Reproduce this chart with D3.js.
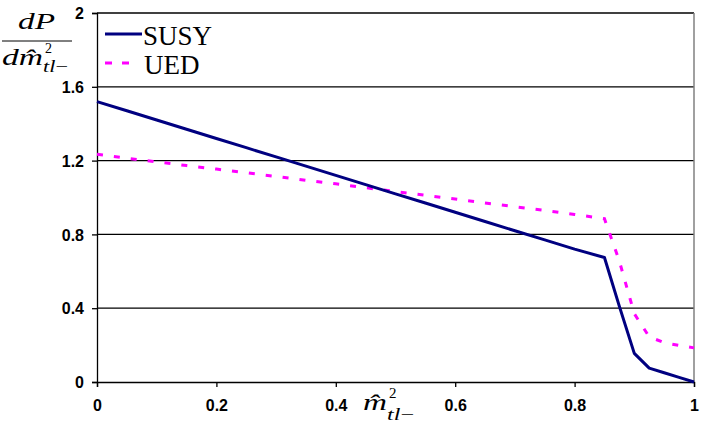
<!DOCTYPE html>
<html>
<head>
<meta charset="utf-8">
<script src="https://cdn.jsdelivr.net/npm/d3@7"></script>
<style>
  body { margin: 0; background: #fff; }
  svg { display: block; }
  .tick text { font-family: "Liberation Sans", Arial, sans-serif; font-size: 16px; font-weight: bold; fill: #000; }
  .math { font-family: "Liberation Serif", "Times New Roman", serif; font-style: italic; fill: #000; }
  .up { font-style: normal; }
</style>
</head>
<body>
<svg id="chart"></svg>
<script>
// values
const xs      = [0, 0.05, 0.1, 0.15, 0.2, 0.25, 0.3, 0.35, 0.4, 0.45, 0.5, 0.55, 0.6, 0.65, 0.7, 0.75, 0.8, 0.85, 0.875, 0.9, 0.925, 0.95, 0.975, 1];
const susy    = [1.52, 1.47, 1.42, 1.37, 1.32, 1.27, 1.22, 1.17, 1.12, 1.07, 1.02, 0.97, 0.92, 0.87, 0.82, 0.77, 0.72, 0.675, 0.41, 0.155, 0.075, 0.05, 0.025, 0];
const ued     = [1.234, 1.213, 1.193, 1.173, 1.154, 1.134, 1.114, 1.093, 1.074, 1.053, 1.032, 1.012, 0.992, 0.970, 0.950, 0.930, 0.908, 0.885, 0.655, 0.37, 0.245, 0.213, 0.198, 0.185];
const xTicks  = [0, 0.2, 0.4, 0.6, 0.8, 1];
const yTicks  = [0, 0.4, 0.8, 1.2, 1.6, 2];
const seriesNames = ['SUSY', 'UED'];

const W = 704, H = 433;
const margin = { top: 13, right: 10, bottom: 51, left: 97 };
const width = W - margin.left - margin.right;
const height = H - margin.top - margin.bottom;

const svg = d3.select('#chart').attr('width', W).attr('height', H);
svg.append('rect').attr('width', W).attr('height', H).attr('fill', '#fff');

const g = svg.append('g').attr('transform', `translate(${margin.left},${margin.top})`);

const x = d3.scaleLinear().domain([0, 1]).range([0, width]);
const y = d3.scaleLinear().domain([0, 2]).range([height, 0]);

// horizontal grid lines
g.selectAll('.grid')
  .data(yTicks.slice(1))
  .enter().append('line')
  .attr('x1', 0).attr('x2', width)
  .attr('y1', d => y(d)).attr('y2', d => y(d))
  .attr('stroke', '#000').attr('stroke-width', 1.3);

// gray right border
g.append('line')
  .attr('x1', width).attr('x2', width)
  .attr('y1', 0).attr('y2', height)
  .attr('stroke', '#808080').attr('stroke-width', 1.5);

const yAxis = g.append('g')
  .call(d3.axisLeft(y).tickValues(yTicks).tickFormat(d3.format('')).tickSize(5).tickPadding(8));
const xAxis = g.append('g')
  .attr('transform', `translate(0,${height})`)
  .call(d3.axisBottom(x).tickValues(xTicks).tickFormat(d3.format('')).tickSize(5).tickPadding(13));
[yAxis, xAxis].forEach(a => {
  a.select('.domain').attr('stroke', '#000').attr('stroke-width', 1.3);
  a.selectAll('.tick line').attr('stroke', '#000').attr('stroke-width', 1.3);
});
yAxis.selectAll('.tick text').attr('dy', '0.36em');

const pts = vals => xs.map((v, i) => [v, vals[i]]);
const line = d3.line().x(d => x(d[0])).y(d => y(d[1]));

g.append('path')
  .datum(pts(ued))
  .attr('fill', 'none')
  .attr('stroke', '#ff00ff')
  .attr('stroke-width', 3)
  .attr('stroke-dasharray', '6,11')
  .attr('d', line);

g.append('path')
  .datum(pts(susy))
  .attr('fill', 'none')
  .attr('stroke', '#000080')
  .attr('stroke-width', 3)
  .attr('stroke-linejoin', 'round')
  .attr('d', line);

// legend
const legend = svg.append('g');
const styles = [
  { stroke: '#000080', dash: null, len: 37 },
  { stroke: '#ff00ff', dash: '7,10', len: 32 }
];
seriesNames.forEach((name, i) => {
  const ly = 34 + i * 29;
  legend.append('line')
    .attr('x1', 105).attr('x2', 105 + styles[i].len)
    .attr('y1', ly).attr('y2', ly)
    .attr('stroke', styles[i].stroke).attr('stroke-width', 3)
    .attr('stroke-dasharray', styles[i].dash);
  legend.append('text')
    .attr('x', 143 + (i ? 1 : 0)).attr('y', ly + 11)
    .style('font-family', '"Liberation Serif", "Times New Roman", serif')
    .style('font-size', '27px')
    .text(name);
});

// y title: dP / d m-hat^2_{tl-}
const yt = svg.append('g');
yt.append('text').attr('class', 'math').attr('x', 18).attr('y', 29)
  .attr('textLength', 37).attr('lengthAdjust', 'spacingAndGlyphs')
  .style('font-size', '24px').text('dP');
yt.append('line').attr('x1', 2).attr('x2', 72).attr('y1', 41).attr('y2', 41)
  .attr('stroke', '#000').attr('stroke-width', 1);
yt.append('text').attr('class', 'math').attr('x', 2).attr('y', 65)
  .attr('textLength', 41).attr('lengthAdjust', 'spacingAndGlyphs')
  .style('font-size', '24px').text('dm\u0302');
yt.append('text').attr('class', 'math up').attr('x', 45).attr('y', 53)
  .style('font-size', '14px').text('2');
yt.append('text').attr('class', 'math').attr('x', 43).attr('y', 72)
  .attr('textLength', 25).attr('lengthAdjust', 'spacingAndGlyphs')
  .style('font-size', '16px')
  .text('tl').append('tspan').attr('class', 'up').text('\u2212');

// x title
const xt = svg.append('g');
xt.append('text').attr('class', 'math').attr('x', 363).attr('y', 410)
  .attr('textLength', 24).attr('lengthAdjust', 'spacingAndGlyphs')
  .style('font-size', '24px').text('m\u0302');
xt.append('text').attr('class', 'math up').attr('x', 389).attr('y', 398)
  .style('font-size', '15px').text('2');
xt.append('text').attr('class', 'math').attr('x', 387).attr('y', 420)
  .attr('textLength', 27).attr('lengthAdjust', 'spacingAndGlyphs')
  .style('font-size', '17px')
  .text('tl').append('tspan').attr('class', 'up').text('\u2212');
</script>
</body>
</html>
